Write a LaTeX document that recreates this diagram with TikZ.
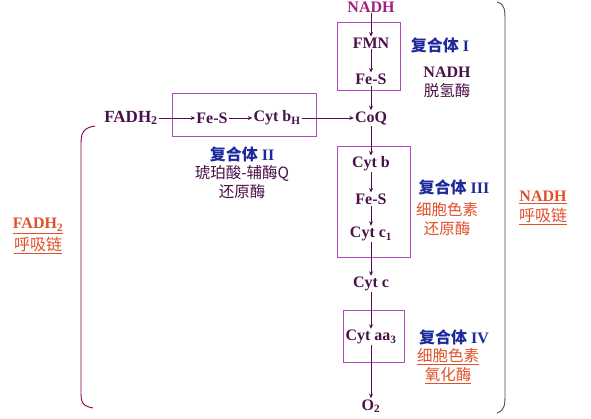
\documentclass[tikz,border=0pt]{standalone}
\usepackage{fontspec}
\setmainfont{Liberation Serif}
\newfontfamily\cjk{Noto Sans CJK SC}
\usetikzlibrary{arrows.meta}
\definecolor{tpurple}{HTML}{4A1048}
\definecolor{boxc}{HTML}{B348C0}
\definecolor{blab}{HTML}{1E2A9C}
\definecolor{olab}{HTML}{E0502A}
\definecolor{nadhc}{HTML}{A0207E}
\newcommand{\cplx}[1]{{\cjk\bfseries 复合体}\hspace{4pt}{\rmfamily\bfseries #1}}
\begin{document}
\begin{tikzpicture}[x=1pt,y=-1pt,
  every node/.style={font=\fontsize{16}{18}\selectfont\bfseries, text=tpurple, inner sep=1pt},
  flow/.style={draw=tpurple, line width=0.7pt, -{Stealth[length=4.5pt,width=4pt]}},
  blue/.style={text=blab, font=\fontsize{16}{18}\selectfont},
  cn/.style={font=\fontsize{15.5}{18}\selectfont\cjk, text=tpurple},
  orn/.style={font=\fontsize{15.5}{18}\selectfont\cjk, text=olab, align=center},
  brk/.style={line width=0.9pt}]
\useasboundingbox (0,0) rectangle (591,418);
% boxes
\draw[draw=boxc, line width=0.9pt] (337,22) rectangle (400,90);
\draw[draw=boxc, line width=0.9pt] (172,93) rectangle (316,136);
\draw[draw=boxc, line width=0.9pt] (337,146) rectangle (410,257);
\draw[draw=boxc, line width=0.9pt] (343,310) rectangle (404,362);
% carriers
\node[text=nadhc] (nadh) at (371,7) {NADH};
\node (fmn) at (371,43) {FMN};
\node (fes1) at (371,79) {Fe-S};
\node (coq) at (371,118) {CoQ};
\node (cytb) at (371,164) {Cyt b};
\node (fes3) at (371,199) {Fe-S};
\node (cytc1) at (371,234) {Cyt c\textsubscript{1}};
\node (cytc) at (371,284) {Cyt c};
\node (aa3) at (371,337) {Cyt aa\textsubscript{3}};
\node (o2) at (371,406) {O\textsubscript{2}};
\node[font=\fontsize{17}{19}\selectfont\bfseries] (fadh) at (131,118) {FADH\textsubscript{2}};
\node (fes2) at (212,118) {Fe-S};
\node (cytbh) at (277,118) {Cyt b\textsubscript{H}};
% arrows
\draw[flow] (nadh) -- (fmn);
\draw[flow] (fmn) -- (fes1);
\draw[flow] (fes1) -- (coq);
\draw[flow] (coq) -- (cytb);
\draw[flow] (cytb) -- (fes3);
\draw[flow] (fes3) -- (cytc1);
\draw[flow] (cytc1) -- (cytc);
\draw[flow] (cytc) -- (aa3);
\draw[flow] (aa3) -- (o2);
\draw[flow] (fadh) -- (fes2);
\draw[flow] (fes2) -- (cytbh);
\draw[flow] (cytbh) -- (coq);
% labels complex I
\node[blue] (c1) at (440,45) {\cplx{I}};
\node (c1a) at (447,72) {NADH};
\node[cn] (c1b) at (447,91) {脱氢酶};
% complex II
\node[blue] (c2) at (242,154) {\cplx{II}};
\node[cn] (c2a) at (242,173) {琥珀酸-辅酶Q};
\node[cn] (c2b) at (242,192) {还原酶};
% complex III
\node[blue] (c3) at (454,187) {\cplx{III}};
\node[orn] (c3a) at (447,210) {细胞色素};
\node[orn] (c3b) at (447,229) {还原酶};
% complex IV
\node[blue] (c4) at (454,337) {\cplx{IV}};
\node[orn] (c4a) at (448,357) {\underline{细胞色素}};
\node[orn] (c4b) at (448,376) {\underline{氧化酶}};
% brackets
\draw[brk, draw=black!70] (497,2) .. controls (505,4) and (505,10) .. (505,22) -- (505,393) .. controls (505,405) and (505,410) .. (497,413);
\draw[brk, draw=black!40!blue!50!red] (95,126) .. controls (82,128) and (81,134) .. (81,145) -- (81,392) .. controls (81,402) and (82,406) .. (93,408);
% chain labels
\node[orn, font=\fontsize{16}{18}\selectfont\bfseries] (nr1) at (543,197) {\underline{NADH}};
\node[orn, font=\fontsize{16}{18}\selectfont\cjk] (nr2) at (543,216) {\underline{呼吸链}};
\node[orn, font=\fontsize{16}{18}\selectfont\bfseries] (fr1) at (38,226) {\underline{FADH\textsubscript{2}}};
\node[orn, font=\fontsize{16}{18}\selectfont\cjk] (fr2) at (38,245) {\underline{呼吸链}};
\end{tikzpicture}
\end{document}
